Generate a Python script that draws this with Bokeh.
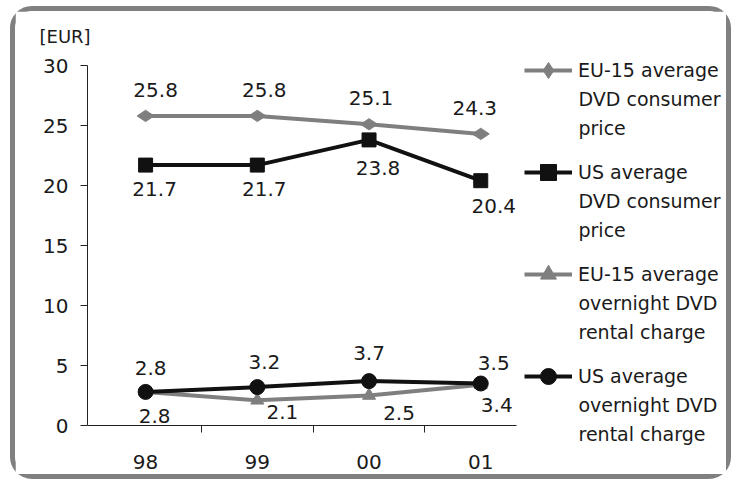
import math
from bokeh.plotting import figure
from bokeh.models import (ColumnDataSource, FixedTicker, Legend, LegendItem, LabelSet, Label, Title, Range1d)
from bokeh.core.properties import value
from bokeh.embed import file_html
from bokeh.resources import INLINE

years = ["98", "99", "00", "01"]
eu_price = [25.8, 25.8, 25.1, 24.3]
us_price = [21.7, 21.7, 23.8, 20.4]
eu_rental = [2.8, 2.1, 2.5, 3.4]
us_rental = [2.8, 3.2, 3.7, 3.5]
series_names = [
    "EU-15 average\nDVD consumer\nprice",
    "US average\nDVD consumer\nprice",
    "EU-15 average\novernight DVD\nrental charge",
    "US average\novernight DVD\nrental charge",
]
y_ticks = [0, 5, 10, 15, 20, 25, 30]
unit_label = "[EUR]"

FONT = "DejaVu Sans"
GRAY = "#7f7f7f"
BLACK = "#111111"
TXT = "#1a1a1a"
xs = list(range(len(years)))

# Page geometry (canvas starts at page x=15, y=11; size 721x473)
OX, OY = 15, 11
CANVAS_W, CANVAS_H = 721, 473
FRAME_LEFT, FRAME_TOP = 87, 50
FRAME_RIGHT, FRAME_BOTTOM = OX + CANVAS_W, OY + CANVAS_H
AXIS_RIGHT, AXIS_TOP, AXIS_BOTTOM = 516, 65, 425
X_LO, X_HI = -0.52, 3.32          # visible x-axis extent
Y_LO, Y_HI = 0, 30                # visible y-axis extent
x_scale = (AXIS_RIGHT - FRAME_LEFT) / (X_HI - X_LO)
y_scale = (AXIS_BOTTOM - AXIS_TOP) / (Y_HI - Y_LO)

p = figure(width=CANVAS_W, height=CANVAS_H, output_backend="svg", toolbar_location=None,
           x_range=Range1d(X_LO, X_LO + (FRAME_RIGHT - FRAME_LEFT) / x_scale),
           y_range=Range1d(Y_LO - (FRAME_BOTTOM - AXIS_BOTTOM) / y_scale,
                           Y_LO + (AXIS_BOTTOM - FRAME_TOP) / y_scale),
           min_border_left=FRAME_LEFT - OX, min_border_right=0,
           min_border_top=FRAME_TOP - OY, min_border_bottom=0,
           outline_line_color=None,
           styles={"border": "5px solid #808080", "border-radius": "22px",
                   "margin-left": "10px", "margin-top": "6px"})
p.grid.grid_line_color = None

p.yaxis.bounds = (Y_LO, Y_HI)
p.yaxis.ticker = FixedTicker(ticks=y_ticks)
p.yaxis.major_tick_out = 7
p.yaxis.major_tick_in = 0
p.yaxis.minor_tick_line_color = None
p.yaxis.major_label_standoff = 12
p.yaxis.major_tick_line_color = "#222222"
p.xaxis.fixed_location = Y_LO
p.xaxis.bounds = (X_LO, X_HI)
p.xaxis.ticker = FixedTicker(ticks=xs, minor_ticks=[0.5, 1.5, 2.5])
p.xaxis.major_label_overrides = {i: y for i, y in zip(xs, years)}
p.xaxis.major_tick_line_color = None
p.xaxis.major_tick_out = 0
p.xaxis.minor_tick_out = 7
p.xaxis.minor_tick_in = 0
p.xaxis.minor_tick_line_color = "#222222"
p.xaxis.major_label_standoff = 22
for ax in (p.xaxis, p.yaxis):
    ax.axis_line_color = "#222222"
    ax.major_label_text_font = FONT
    ax.major_label_text_font_size = "20px"
    ax.major_label_text_color = TXT

p.add_layout(Title(text=unit_label, align="left", offset=-48, text_font=FONT,
                   text_font_size="18px", text_font_style="normal",
                   text_color=TXT, standoff=8), "above")

styles = [
    dict(data=eu_price, color=GRAY, marker="diamond", size=17, angle=math.pi / 2,
         dx=[10, 7, 2, -6], dy=[26, 26, 26, 26]),
    dict(data=us_price, color=BLACK, marker="square", size=14, angle=0,
         dx=[9, 7, 9, 13], dy=[-24, -24, -28, -25]),
    dict(data=eu_rental, color=GRAY, marker="triangle", size=13, angle=0,
         dx=[9, 25, 30, 16], dy=[-24, -12, -17, -20]),
    dict(data=us_rental, color=BLACK, marker="circle", size=15, angle=0,
         dx=[5, 7, 0, 13], dy=[24, 25, 28, 21]),
]

items = []
for name, st in zip(series_names, styles):
    src = ColumnDataSource(dict(x=xs, y=st["data"], lab=[f"{v:.1f}" for v in st["data"]],
                                dx=st["dx"], dy=st["dy"]))
    r1 = p.line("x", "y", source=src, line_color=st["color"], line_width=4)
    r2 = p.scatter("x", "y", source=src, marker=st["marker"], size=st["size"], angle=st["angle"],
                   fill_color=st["color"], line_color=st["color"])
    items.append(LegendItem(label=name.split("\n")[0], renderers=[r1, r2]))
    p.add_layout(LabelSet(x="x", y="y", text="lab", source=src, x_offset="dx", y_offset="dy",
                          text_align="center", text_baseline="middle", text_font=value(FONT),
                          text_font_size="20px", text_color=TXT))

# legend: first lines via Legend, continuation lines as labels beside it
GROUP = 102
LINE = 28.5
FIRST = 70
GH = 40
leg_top = FIRST - GH / 2
leg_h = len(items) * GH + (len(items) - 1) * (GROUP - GH)
legend = Legend(items=items, location=(524 - FRAME_LEFT, FRAME_BOTTOM - (leg_top + leg_h)),
                margin=0, padding=0,
                label_text_font=FONT, label_text_font_size="19px", label_text_color=TXT,
                glyph_width=48, glyph_height=GH, label_height=GH,
                label_standoff=6, spacing=GROUP - GH, border_line_color=None,
                background_fill_alpha=0)
p.add_layout(legend)
for g, name in enumerate(series_names):
    for k, line in enumerate(name.split("\n")[1:], start=1):
        yy = FIRST + g * GROUP + k * LINE
        p.add_layout(Label(x=578 - FRAME_LEFT, y=FRAME_BOTTOM - yy, x_units="screen", y_units="screen",
                           text=line, text_font=FONT, text_font_size="19px", text_color=TXT,
                           text_baseline="middle", text_align="left"))

open("out.html", "w").write(file_html(p, INLINE))
